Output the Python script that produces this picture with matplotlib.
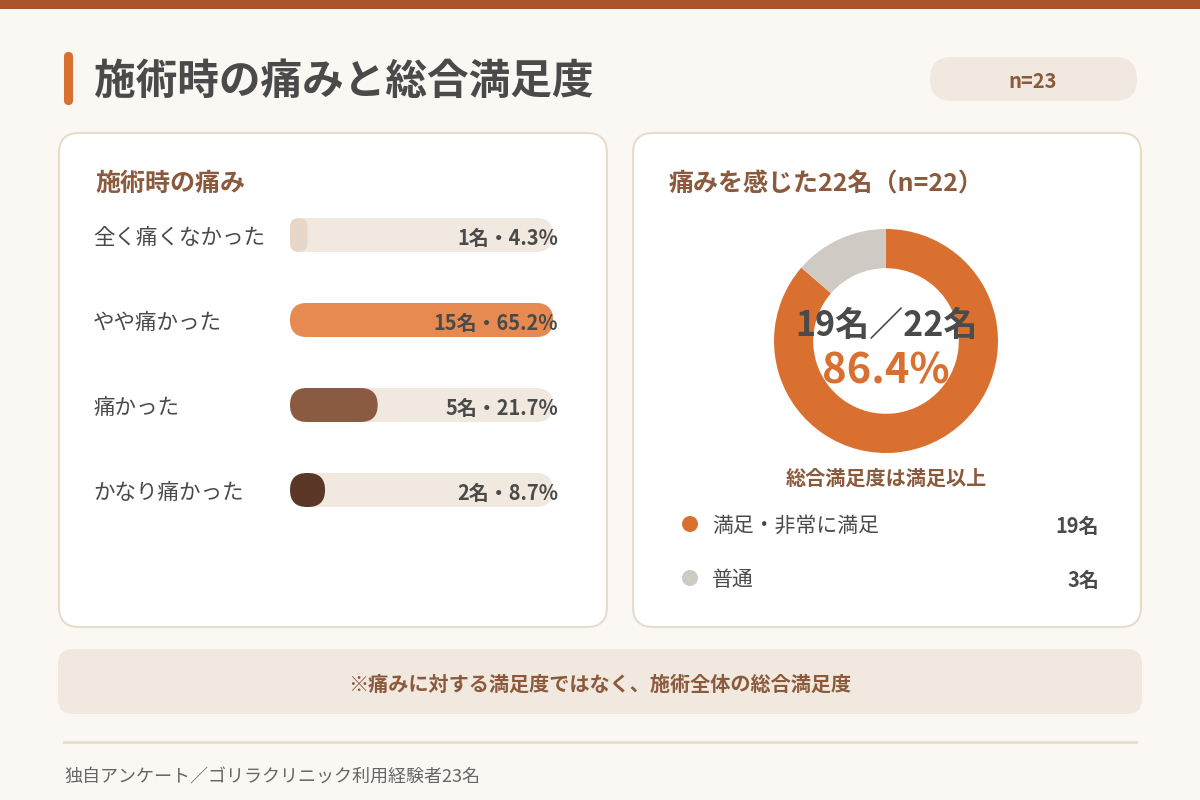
import matplotlib
matplotlib.use("Agg")
import matplotlib.pyplot as plt
from matplotlib.patches import FancyBboxPatch, Circle
from matplotlib import transforms

plt.rcParams['font.family'] = ['Noto Sans CJK JP', 'DejaVu Sans']

# data
pain_labels = ["全く痛くなかった", "やや痛かった", "痛かった", "かなり痛かった"]
pain_counts = [1, 15, 5, 2]
pain_colors = ["#E7D7C8", "#E68A52", "#8B5A42", "#5B3728"]

sat_labels = ["満足・非常に満足", "普通"]
sat_counts = [19, 3]
sat_colors = ["#D97030", "#CFCAC3"]

n_total = sum(pain_counts)
n_pain = sat_counts[0] + sat_counts[1]

BG = "#FBF8F4"
BEIGE = "#F1E8DF"
BORDER = "#E8DCCB"
BROWN = "#8B5A3C"
DARK = "#4A4A4A"
ORANGE = "#D97030"

fig = plt.figure(figsize=(12, 8), dpi=100, facecolor=BG)
ax = fig.add_axes([0, 0, 1, 1])
ax.set_xlim(0, 1200)
ax.set_ylim(800, 0)
ax.axis("off")
ax.set_facecolor(BG)


def rbox(a, x, y, w, h, r, fc, ec="none", lw=0):
    p = FancyBboxPatch((x, y), w, h, boxstyle=f"round,pad=0,rounding_size={r}",
                       fc=fc, ec=ec, lw=lw)
    a.add_patch(p)


# top strip
ax.add_patch(plt.Rectangle((0, 0), 1200, 9, fc="#A8552D", ec="none"))

# header
rbox(ax, 64, 52, 9, 53, 4.5, ORANGE)
ax.text(94, 82, "施術時の痛みと総合満足度", fontsize=30, fontweight="bold",
        color=DARK, va="center", ha="left")
rbox(ax, 930, 57, 207, 44, 22, BEIGE)
ax.text(1033, 81, f"n={n_total}", fontsize=14.5, fontweight="bold",
        color=BROWN, va="center", ha="center")

# cards
rbox(ax, 59, 133, 548, 494, 20, "white", BORDER, 1.5)
rbox(ax, 633, 133, 508, 494, 20, "white", BORDER, 1.5)

ax.text(95, 184, "施術時の痛み", fontsize=18, fontweight="bold",
        color=BROWN, va="center")
ax.text(669, 184, f"痛みを感じた{n_pain}名（n={n_pain}）", fontsize=18,
        fontweight="bold", color=BROWN, va="center")

# bars, scaled to the largest group
cmax = max(pain_counts)
row_px = 85
track_px = 263
bar_h = 0.4
bar_ax = fig.add_axes([290 / 1200, 1 - 532.5 / 800, track_px / 1200,
                       row_px * len(pain_counts) / 800])
bar_ax.set_xlim(0, cmax)
bar_ax.set_ylim(len(pain_counts) - 0.5, -0.5)
bar_ax.axis("off")
asp = track_px / (row_px * cmax)
half_h_x = bar_h / asp / 2


def rbar(axx, x0, y, w, fc):
    r = min(half_h_x, w / 2)
    p = FancyBboxPatch((x0, y - bar_h / 2), w, bar_h,
                       boxstyle=f"round,pad=0,rounding_size={r}",
                       mutation_aspect=asp, fc=fc, ec="none")
    axx.add_patch(p)


for i, (c, col) in enumerate(zip(pain_counts, pain_colors)):
    rbar(bar_ax, 0, i, cmax, BEIGE)
    rbar(bar_ax, 0, i, c, col)

# overlay axes for text on top
ax2 = fig.add_axes([0, 0, 1, 1])
ax2.set_xlim(0, 1200)
ax2.set_ylim(800, 0)
ax2.axis("off")
ax2.patch.set_alpha(0)

lbl_tr = transforms.blended_transform_factory(ax2.transData, bar_ax.transData)
lbl_tr = lbl_tr + transforms.ScaledTranslation(0, -3 / 100, fig.dpi_scale_trans)
for i, (lab, c) in enumerate(zip(pain_labels, pain_counts)):
    ax2.text(93, i, lab, transform=lbl_tr, fontsize=15.5, color=DARK, va="center")
    ax2.text(558, i, f"{c}名・{100 * c / n_total:.1f}%", transform=lbl_tr,
             fontsize=14.4, fontweight="bold", color=DARK, va="center", ha="right")

# donut
cx, cy, R = 886, 341, 112
pie_ax = fig.add_axes([(cx - R) / 1200, 1 - (cy + R) / 800, 2 * R / 1200, 2 * R / 800])
pie_ax.set_zorder(0.5)
pie_ax.pie(sat_counts, colors=sat_colors, startangle=90, counterclock=False,
           radius=1, wedgeprops=dict(width=0.35, edgecolor="none"))
pie_ax.set_xlim(-1, 1)
pie_ax.set_ylim(-1, 1)
ax2.set_zorder(1)

ax2.text(cx, 325, f"{sat_counts[0]}名／{n_pain}名", fontsize=24.5, fontweight="bold",
         color=DARK, va="center", ha="center")
ax2.text(cx, 372, f"{100 * sat_counts[0] / n_pain:.1f}%", fontsize=30,
         fontweight="bold", color=ORANGE, va="center", ha="center")
ax2.text(cx, 478, "総合満足度は満足以上", fontsize=14.5, fontweight="bold",
         color=BROWN, va="center", ha="center")

# legend rows
for j, (lab, c, col) in enumerate(zip(sat_labels, sat_counts, sat_colors)):
    y = 524 + 54 * j
    ax2.add_patch(Circle((690, y), 8, fc=col, ec="none"))
    ax2.text(712, y + 2, lab, fontsize=15, color=DARK, va="center")
    ax2.text(1099, y + 2, f"{c}名", fontsize=14.4, fontweight="bold", color=DARK,
             va="center", ha="right")

# note
rbox(ax2, 58, 649, 1084, 65, 15, BEIGE)
ax2.text(600, 684, "※痛みに対する満足度ではなく、施術全体の総合満足度", fontsize=14.5,
         fontweight="bold", color=BROWN, va="center", ha="center")

# footer
ax2.plot([64, 1136], [742, 742], color=BORDER, lw=2)
ax2.text(64, 777, f"独自アンケート／ゴリラクリニック利用経験者{n_total}名", fontsize=13,
         color="#666666", va="center")

fig.savefig("out.png", dpi=100, facecolor=BG)
